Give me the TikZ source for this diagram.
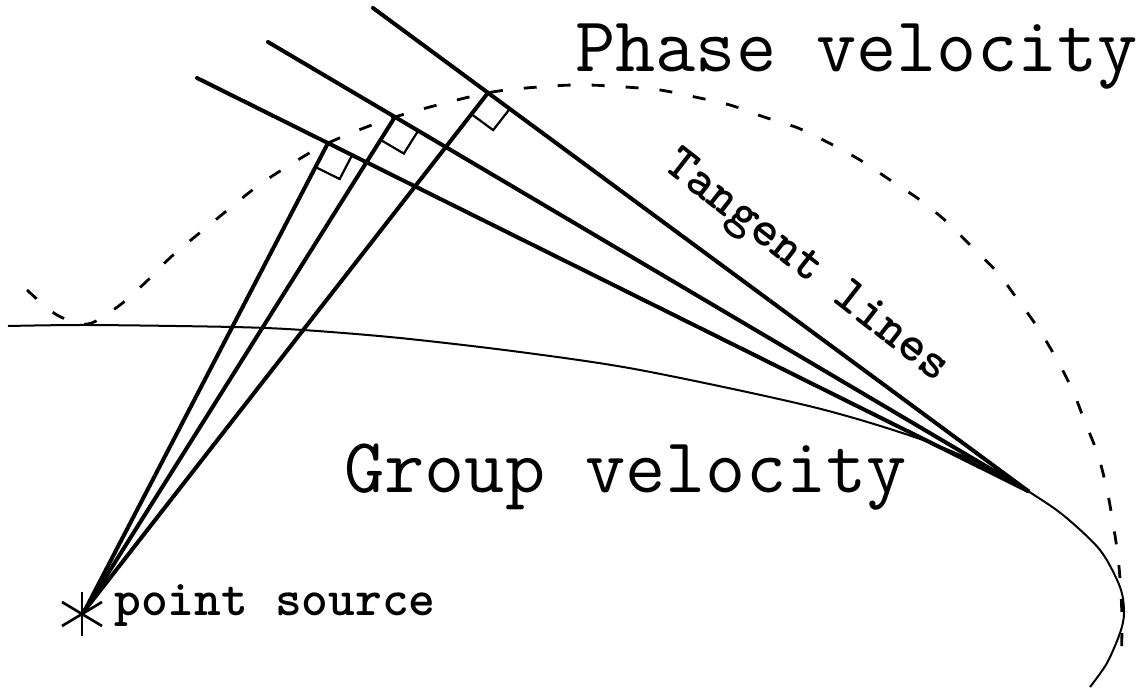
\documentclass[tikz,border=0pt]{standalone}
\usetikzlibrary{calc}
\tikzset{
  tanline/.style={line width=2pt, line cap=round},
  rayline/.style={line width=2pt, line cap=round},
  groupcurve/.style={line width=1pt},
  phasecurve/.style={line width=1.4pt, dash pattern=on 6.5pt off 10.5pt},
  rightmark/.style={line width=1.1pt},
  astmark/.style={line width=1.3pt},
  bigtext/.style={font=\ttfamily\fontsize{39}{39}\selectfont, inner sep=0pt, anchor=base west},
  smalltext/.style={font=\ttfamily\bfseries\fontsize{25.5}{25.5}\selectfont, inner sep=0pt},
}
\begin{document}
\begin{tikzpicture}[x=0.5pt,y=-0.5pt]
\useasboundingbox (0,0) rectangle (1143,690);
% key points
\coordinate (S) at (85,610);
\coordinate (Ast) at (82,614);
\coordinate (T) at (1028,491);
\coordinate (A1) at (373,8);
\coordinate (A2) at (268,42);
\coordinate (A3) at (197,78);
\coordinate (F1) at ($(A1)!0.1756!(T)$);
\coordinate (F2) at ($(A2)!0.167!(T)$);
\coordinate (F3) at ($(A3)!0.1576!(T)$);
% phase velocity curve (dashed)
\draw[phasecurve] plot[smooth] coordinates {(27,290) (57,315) (88,324) (120,305) (148,280) (172,256) (213,222) (255,188) (285,168) (F3) (F2) (F1) (553,86) (588,85) (625,87) (660,90) (695,97) (730,105) (764,117) (798,128) (829,143) (860,160) (890,180) (920,200) (947,222) (972,247) (997,272) (1018,300) (1038,328) (1056,358) (1072,389) (1085,422) (1098,455) (1107,490) (1113,523) (1118,557) (1121,593) (1122,627) (1121,667)};
% group velocity curve
\draw[groupcurve] plot[smooth] coordinates {(8,326) (90,325) (233,327) (303,330) (400,338) (520,352) (640,370) (813,407) (923,440) (1000,473) (T) (1063,515) (1100,550) (1120,587) (1124,613) (1120,633) (1107,663) (1090,687)};
% tangent lines
\draw[tanline] (A1) -- (T);
\draw[tanline] (A2) -- (T);
\draw[tanline] (A3) -- (T);
% rays from the source
\draw[rayline] (S) -- (F1);
\draw[rayline] (S) -- (F2);
\draw[rayline] (S) -- (F3);
% right angle marks
\foreach \i in {1,2,3} {
  \coordinate (P\i) at ($(F\i)!13.5pt!(S)$);
  \coordinate (Q\i) at ($(F\i)!13.5pt!(T)$);
  \coordinate (R\i) at ($(P\i)+(Q\i)-(F\i)$);
  \draw[rightmark] (P\i) -- (R\i) -- (Q\i);
}
% asterisk at the point source
\draw[astmark] ($(Ast)+(0,-22)$) -- ($(Ast)+(0,22)$);
\draw[astmark] ($(Ast)+(-20,-12)$) -- ($(Ast)+(20,12)$);
\draw[astmark] ($(Ast)+(-20,12)$) -- ($(Ast)+(20,-12)$);
% labels
\node[bigtext] (phase) at (575,72) {Phase velocity};
\node[bigtext] (group) at (344,492) {Group velocity};
\node[smalltext, anchor=base west] (src) at (114,615) {point source};
\node[smalltext, rotate=-38] (tang) at (806,268) {Tangent lines};
\end{tikzpicture}
\end{document}
